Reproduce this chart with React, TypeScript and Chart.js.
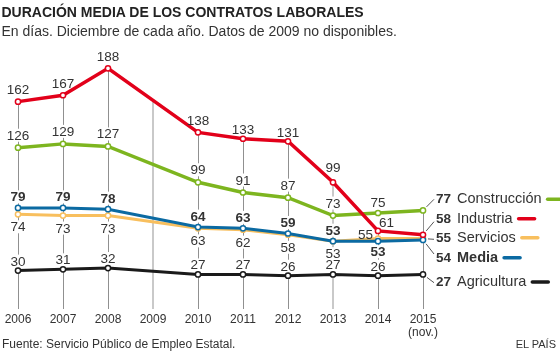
import React, { useEffect, useRef } from "react";
import { Chart, registerables } from "chart.js";

Chart.register(...registerables);

// ---------- data ----------
const years = ["2006", "2007", "2008", "2009", "2010", "2011", "2012", "2013", "2014", "2015"];
const yearSubLabels = ["", "", "", "", "", "", "", "", "", "(nov.)"];
const industria = [162, 167, 188, null, 138, 133, 131, 99, 61, 58];
const construccion = [126, 129, 127, null, 99, 91, 87, 73, 75, 77];
const media = [79, 79, 78, null, 64, 63, 59, 53, 53, 54];
const servicios = [74, 73, 73, null, 63, 62, 58, 53, 55, 55];
const agricultura = [30, 31, 32, null, 27, 27, 26, 27, 26, 27];

const TITLE = "DURACIÓN MEDIA DE LOS CONTRATOS LABORALES";
const SUBTITLE = "En días. Diciembre de cada año. Datos de 2009 no disponibles.";
const SOURCE = "Fuente: Servicio Público de Empleo Estatal.";
const BRAND = "EL PAÍS";

// ---------- styles ----------
const FONT = '"Liberation Sans", Arial, Helvetica, sans-serif';
const TEXT = "#333333";

type Series = {
  name: string;
  data: (number | null)[];
  color: string;
  lw: number;
  dy: number; // label baseline offset from point
  bold: boolean;
  endY: number; // end label baseline
  connY: number; // connector end y
};

const SERIES: Series[] = [
  { name: "Industria", data: industria, color: "#e2001a", lw: 3.5, dy: -7.5, bold: false, endY: 222.7, connY: 221.7 },
  { name: "Media", data: media, color: "#0b6aa2", lw: 3, dy: -6.5, bold: true, endY: 261.7, connY: 254 },
  { name: "Construcción", data: construccion, color: "#7db51f", lw: 3.5, dy: -8, bold: false, endY: 203.3, connY: 199.3 },
  { name: "Servicios", data: servicios, color: "#f8bf5e", lw: 3, dy: 17, bold: false, endY: 241.7, connY: 239.3 },
  { name: "Agricultura", data: agricultura, color: "#1a1a1a", lw: 3, dy: -5, bold: false, endY: 286, connY: 282.7 },
];

const OVERRIDES: Record<string, { dx?: number; dy?: number }> = {
  "Industria:5": { dy: -4.5 },
  "Industria:6": { dy: -4.5 },
  "Industria:7": { dy: -10.5 },
  "Industria:8": { dx: 8.5, dy: -3.7 },
  "Servicios:8": { dx: -12.5, dy: 0 },
  "Media:8": { dy: 15 },
  "Construcción:8": { dy: -5.7 },
};

const LABEL_SIZE = 13.5;
const END_NUM_X = 436;
const END_NAME_X = 457;

const annotPlugin = {
  id: "annot",
  beforeDatasetsDraw(chart: any) {
    const ctx = chart.ctx as CanvasRenderingContext2D;
    const area = chart.chartArea;
    const xs = chart.scales.x;
    const ys = chart.scales.y;
    ctx.save();
    // drop lines
    for (let i = 0; i < years.length; i++) {
      let top = Infinity;
      SERIES.forEach((s) => {
        const v = s.data[i];
        if (v != null) top = Math.min(top, ys.getPixelForValue(v));
      });
      if (!isFinite(top)) {
        const a = industria[i - 1] as number;
        const b = industria[i + 1] as number;
        top = ys.getPixelForValue((a + b) / 2);
      }
      const x = Math.round(xs.getPixelForValue(i)) + 0.5;
      const light = i === 3 || i === 7;
      ctx.strokeStyle = light ? "#c9c9c9" : "#909090";
      ctx.lineWidth = light ? 2 : 1;
      ctx.beginPath();
      ctx.moveTo(light ? x - 0.5 : x, top);
      ctx.lineTo(light ? x - 0.5 : x, area.bottom);
      ctx.stroke();
    }
    // white boxes under labels
    const labels = collectLabels(chart);
    labels.forEach((l) => {
      ctx.font = `${l.bold ? "bold " : ""}${LABEL_SIZE}px ${FONT}`;
      const w = ctx.measureText(l.text).width;
      ctx.fillStyle = "#ffffff";
      ctx.fillRect(l.x - w / 2 - 1, l.y - 11, w + 2, 13);
    });
    ctx.restore();
  },
  afterDatasetsDraw(chart: any) {
    const ctx = chart.ctx as CanvasRenderingContext2D;
    const xs = chart.scales.x;
    const ys = chart.scales.y;
    ctx.save();
    // inline labels
    const labels = collectLabels(chart);
    ctx.textAlign = "center";
    ctx.textBaseline = "alphabetic";
    labels.forEach((l) => {
      ctx.font = `${l.bold ? "bold " : ""}${LABEL_SIZE}px ${FONT}`;
      ctx.fillStyle = TEXT;
      ctx.fillText(l.text, l.x, l.y);
    });
    // end labels
    const last = years.length - 1;
    SERIES.forEach((s) => {
      const v = s.data[last] as number;
      const px = xs.getPixelForValue(last);
      const py = ys.getPixelForValue(v);
      const ex = 434;
      const ey = s.connY;
      const dx = ex - px;
      const dy = ey - py;
      const len = Math.hypot(dx, dy) || 1;
      ctx.strokeStyle = "#555555";
      ctx.lineWidth = 1;
      ctx.beginPath();
      ctx.moveTo(px + (dx / len) * 5, py + (dy / len) * 5);
      ctx.lineTo(ex, ey);
      ctx.stroke();

      ctx.textAlign = "left";
      ctx.fillStyle = TEXT;
      ctx.font = `bold ${LABEL_SIZE}px ${FONT}`;
      ctx.fillText(String(v), END_NUM_X, s.endY);
      ctx.font = `${s.bold ? "bold " : ""}14.5px ${FONT}`;
      ctx.fillText(s.name, END_NAME_X, s.endY);
      const w = ctx.measureText(s.name).width;
      const x0 = END_NAME_X + w + 6;
      ctx.strokeStyle = s.color;
      ctx.lineWidth = 3.5;
      ctx.lineCap = "round";
      ctx.beginPath();
      ctx.moveTo(x0, s.endY - 4);
      ctx.lineTo(x0 + 16, s.endY - 4);
      ctx.stroke();
      ctx.lineCap = "butt";
    });
    // x tick labels
    ctx.textAlign = "center";
    ctx.fillStyle = TEXT;
    ctx.font = `12px ${FONT}`;
    years.forEach((y, i) => {
      const x = xs.getPixelForValue(i);
      ctx.fillText(y, x, 323);
      if (yearSubLabels[i]) ctx.fillText(yearSubLabels[i], x, 336);
    });
    ctx.restore();
  },
};

function collectLabels(chart: any) {
  const xs = chart.scales.x;
  const ys = chart.scales.y;
  const out: { text: string; x: number; y: number; bold: boolean }[] = [];
  SERIES.forEach((s) => {
    s.data.forEach((v, i) => {
      if (v == null || i === years.length - 1) return;
      const o = OVERRIDES[`${s.name}:${i}`] || {};
      out.push({
        text: String(v),
        x: xs.getPixelForValue(i) + (o.dx ?? 0),
        y: ys.getPixelForValue(v) + (o.dy ?? s.dy),
        bold: s.bold,
      });
    });
  });
  return out;
}

export default function App() {
  const ref = useRef<HTMLCanvasElement | null>(null);
  useEffect(() => {
    if (!ref.current) return;
    const chart = new Chart(ref.current, {
      type: "line",
      data: {
        labels: years,
        datasets: SERIES.map((s) => ({
          label: s.name,
          data: s.data,
          borderColor: s.color,
          borderWidth: s.lw,
          pointRadius: 2.6,
          pointBorderWidth: 1.5,
          pointBackgroundColor: "#ffffff",
          pointBorderColor: s.color,
          spanGaps: true,
          tension: 0,
          fill: false,
          clip: false as any,
        })),
      },
      options: {
        animation: false,
        responsive: false,
        maintainAspectRatio: false,
        layout: { padding: { left: 18, right: 137, top: 53, bottom: 47 } },
        scales: {
          x: { type: "category", display: false },
          y: { type: "linear", min: 0, max: 200, display: false },
        },
        plugins: {
          legend: { display: false },
          tooltip: { enabled: false },
          title: { display: false },
        },
      },
      plugins: [annotPlugin],
    });
    return () => chart.destroy();
  }, []);

  const textBase: React.CSSProperties = {
    position: "absolute",
    fontFamily: FONT,
    lineHeight: 1,
    whiteSpace: "nowrap",
    color: TEXT,
    margin: 0,
  };

  return (
    <div style={{ position: "fixed", left: 0, top: 0, width: 560, height: 356, background: "#fff", overflow: "hidden" }}>
      <canvas ref={ref} width={560} height={356} style={{ position: "absolute", left: 0, top: 0, width: 560, height: 356 }} />
      <div style={{ ...textBase, left: 1.5, top: 4.9, fontSize: 14, fontWeight: "bold", color: "#222" }}>{TITLE}</div>
      <div style={{ ...textBase, left: 1.5, top: 23.9, fontSize: 14 }}>{SUBTITLE}</div>
      <div style={{ ...textBase, left: 2, top: 338, fontSize: 12 }}>{SOURCE}</div>
      <div style={{ ...textBase, right: 4, top: 339, fontSize: 11 }}>{BRAND}</div>
    </div>
  );
}
